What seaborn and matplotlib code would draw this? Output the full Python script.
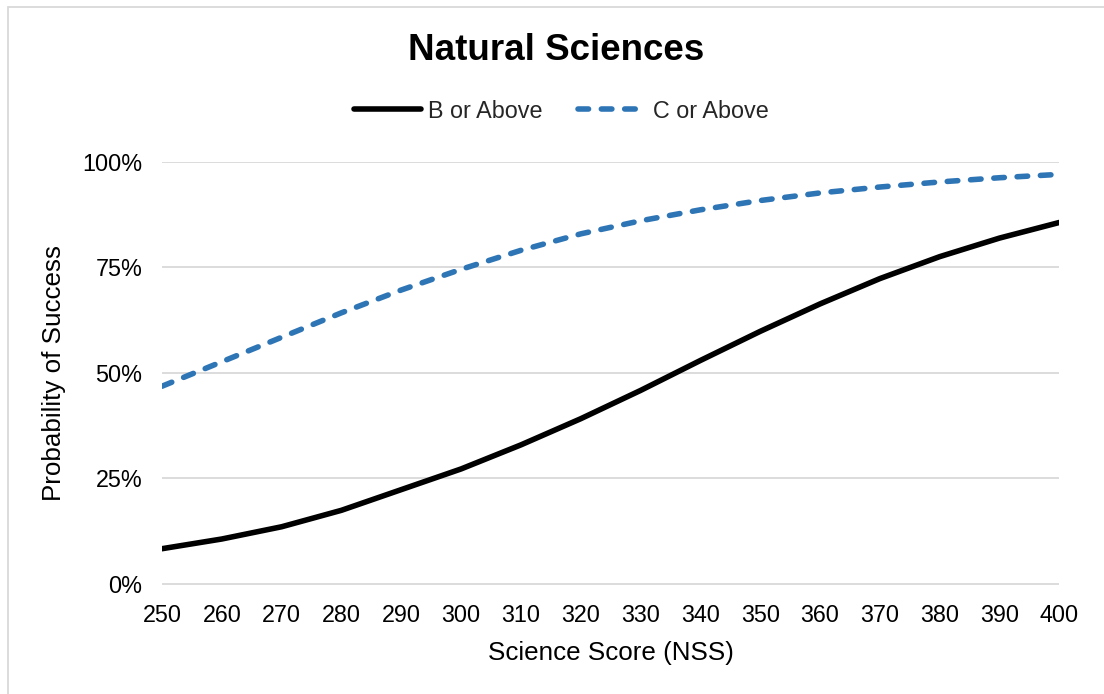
import matplotlib
matplotlib.use("Agg")
import matplotlib.pyplot as plt
import matplotlib.patches as mpatches
from matplotlib.lines import Line2D
import seaborn as sns
import pandas as pd
from matplotlib.ticker import FuncFormatter

# ---- data ----
scores = [250, 260, 270, 280, 290, 300, 310, 320, 330, 340, 350, 360, 370, 380, 390, 400]
b_or_above = [0.083, 0.106, 0.135, 0.174, 0.223, 0.272, 0.329, 0.391, 0.458, 0.529,
              0.598, 0.663, 0.723, 0.775, 0.819, 0.856]
c_or_above = [0.468, 0.526, 0.584, 0.642, 0.696, 0.745, 0.790, 0.829, 0.860, 0.886,
              0.908, 0.926, 0.940, 0.952, 0.962, 0.970]
series_names = ["B or Above", "C or Above"]
x_ticks = [250, 260, 270, 280, 290, 300, 310, 320, 330, 340, 350, 360, 370, 380, 390, 400]
y_ticks = [0, 0.25, 0.50, 0.75, 1.00]

df = pd.DataFrame({
    "score": scores * 2,
    "prob": b_or_above + c_or_above,
    "series": [series_names[0]] * len(scores) + [series_names[1]] * len(scores),
})

sns.set_theme(style="white")
plt.rcParams["font.family"] = ["Liberation Sans", "DejaVu Sans"]

W, H = 1104, 694
fig = plt.figure(figsize=(W / 100, H / 100), dpi=100)
ax = fig.add_axes([162 / W, 1 - 585 / H, (1059.3 - 162) / W, (585 - 161.7) / H])

LW = 4.0
palette = {"B or Above": "#000000", "C or Above": "#2E75B6"}
dashes = {"B or Above": "", "C or Above": (1.9, 2.3)}
sns.lineplot(data=df, x="score", y="prob", hue="series", style="series",
             palette=palette, dashes=dashes, linewidth=LW, ax=ax,
             legend=False)
for ln in ax.lines:
    ln.set_dash_capstyle("round")
    ln.set_solid_capstyle("round")
    ln.set_solid_joinstyle("round")

ax.set_xlim(250, 400)
ax.set_ylim(-0.003, 1.0)
ax.set_xticks(x_ticks)
ax.set_yticks(y_ticks)
ax.yaxis.set_major_formatter(FuncFormatter(lambda v, p: f"{v*100:.0f}%"))
ax.grid(axis="y", color="#D9D9D9", linewidth=1.3)
ax.grid(axis="x", visible=False)
ax.set_axisbelow(True)
for s in ax.spines.values():
    s.set_visible(False)
ax.tick_params(axis="both", length=0, labelsize=16.8, labelcolor="#000000")
ax.tick_params(axis="x", pad=14)
ax.tick_params(axis="y", pad=14)
ax.set_xlabel("Science Score (NSS)", fontsize=18.7, color="#000000", labelpad=10)
ax.set_ylabel("Probability of Success", fontsize=18.7, color="#000000", labelpad=12)

fig.text(556 / W, 1 - 51 / H, "Natural Sciences", ha="center", va="center",
         fontsize=26.5, fontweight="bold", color="#000000")

# legend
h1 = Line2D([], [], color="#000000", linewidth=LW, solid_capstyle="round")
h2 = Line2D([], [], color="#2E75B6", linewidth=LW, linestyle=(0, (1.9, 2.3)),
            dash_capstyle="round")
fig.legend([h1, h2], series_names, loc="center", bbox_to_anchor=(561 / W, 1 - 111 / H),
           ncol=2, frameon=False, fontsize=16.8, handlelength=2.9, handletextpad=0.3,
           columnspacing=1.5, borderpad=0, borderaxespad=0)

# chart border (Excel chart area)
fig.patches.append(mpatches.Rectangle((8 / W, -0.05), 1.1, 1 - 7 / H + 0.05,
                                      transform=fig.transFigure, fill=False,
                                      edgecolor="#D9D9D9", linewidth=1.3))

fig.savefig("out.png", dpi=100)
